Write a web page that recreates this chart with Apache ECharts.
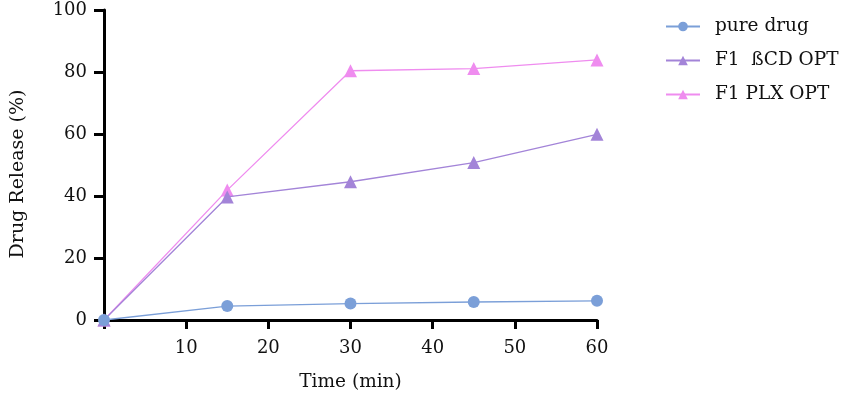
<!DOCTYPE html>
<html>
<head>
<meta charset="utf-8">
<script src="https://cdn.jsdelivr.net/npm/echarts@6/dist/echarts.min.js"></script>
<style>html,body{margin:0;padding:0;background:#fff}#c{width:859px;height:400px}</style>
</head>
<body>
<div id="c"></div>
<script>
const time = [0, 15, 30, 45, 60];
const pureDrug = [0, 4.5, 5.3, 5.8, 6.2];
const f1BCD = [0, 39.7, 44.6, 50.8, 59.9];
const f1PLX = [0, 41.9, 80.4, 81.1, 83.9];
const seriesNames = ['pure drug', 'F1  ßCD OPT', 'F1 PLX OPT'];
const colors = ['#7b9fd8', '#a384d8', '#ef8cef'];

const font = 'DejaVu Serif, serif';
const chart = echarts.init(document.getElementById('c'));
function pairs(v){ return time.map((t,i)=>[t, v[i]]); }
chart.setOption({
  animation: false,
  textStyle: {fontFamily: font},
  grid: {left: 104, right: 262, top: 10, bottom: 80},
  legend: {
    orient: 'vertical', left: 660, top: 12, itemGap: 15,
    itemWidth: 34, itemHeight: 12,
    textStyle: {fontFamily: font, fontSize: 18.5, color: '#111', padding: [0,0,0,10]},
    data: seriesNames
  },
  xAxis: {
    type: 'value', min: 0, max: 60, interval: 10,
    name: 'Time (min)', nameLocation: 'middle', nameGap: 53,
    nameTextStyle: {fontFamily: font, fontSize: 18.5, color: '#111'},
    axisLine: {show: true, lineStyle: {color: '#000', width: 3}},
    axisTick: {show: true, length: 9, lineStyle: {color: '#000', width: 3}},
    axisLabel: {fontFamily: font, fontSize: 18, color: '#111', margin: 19,
      formatter: v => v === 0 ? '' : v},
    splitLine: {show: false}
  },
  yAxis: {
    type: 'value', min: 0, max: 100, interval: 20,
    name: 'Drug Release (%)', nameLocation: 'middle', nameGap: 76,
    nameTextStyle: {fontFamily: font, fontSize: 19, color: '#111', padding: [0, 18, 0, 0]},
    axisLine: {show: true, lineStyle: {color: '#000', width: 3}},
    axisTick: {show: true, length: 10, lineStyle: {color: '#000', width: 3}},
    axisLabel: {fontFamily: font, fontSize: 18, color: '#111', margin: 17},
    splitLine: {show: false}
  },
  series: [
    {name: seriesNames[0], type: 'line', data: pairs(pureDrug), color: colors[0],
     symbol: 'circle', symbolSize: 12, lineStyle: {width: 1.3}, z: 3},
    {name: seriesNames[1], type: 'line', data: pairs(f1BCD), color: colors[1],
     symbol: 'triangle', symbolSize: 13, lineStyle: {width: 1.3}, z: 2},
    {name: seriesNames[2], type: 'line', data: pairs(f1PLX), color: colors[2],
     symbol: 'triangle', symbolSize: 13, lineStyle: {width: 1.3}, z: 1}
  ]
});
</script>
</body>
</html>
